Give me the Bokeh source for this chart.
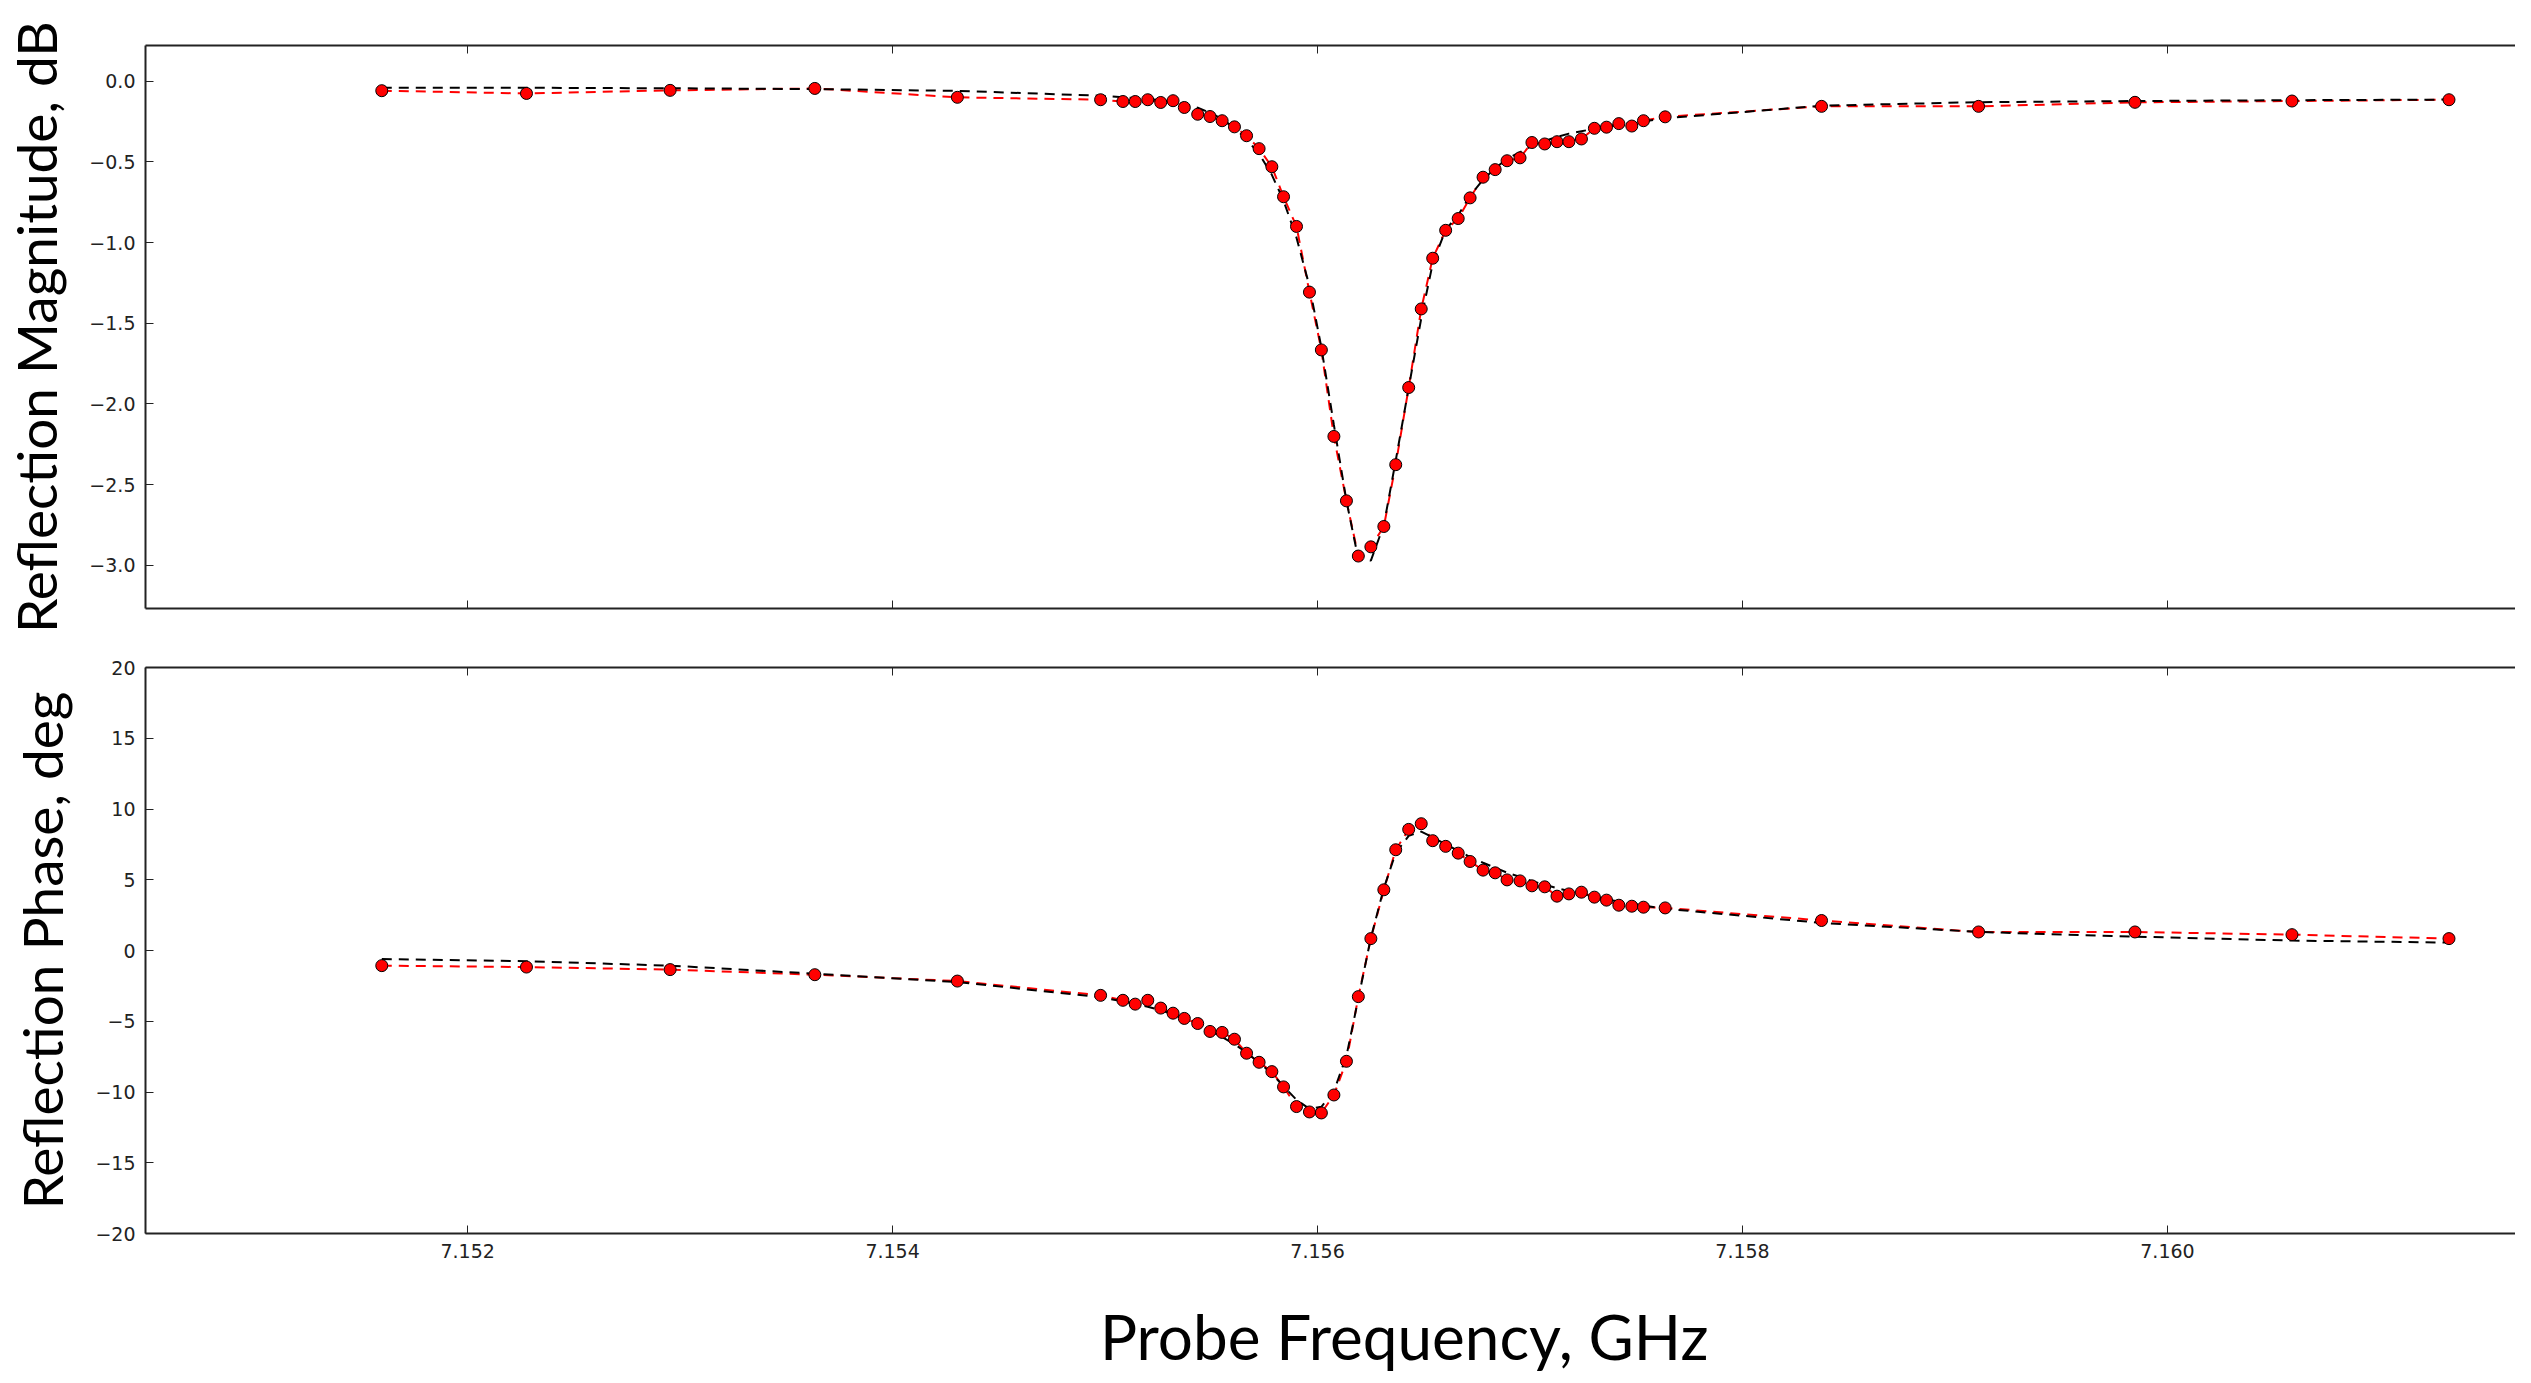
from bokeh.plotting import figure
from bokeh.layouts import column
from bokeh.models import Range1d, FixedTicker, LinearAxis, CustomJSTickFormatter
from bokeh.core.properties import value
from bokeh.embed import file_html
from bokeh.resources import INLINE

# ---------------- data ----------------
freq_ghz = [7.151596, 7.152277, 7.152953, 7.153634, 7.154305,
            7.154979, 7.155084, 7.155142, 7.155201, 7.155262, 7.155320, 7.155373, 7.155436,
            7.155494, 7.155551, 7.155609, 7.155666, 7.155725, 7.155785, 7.155840, 7.155901,
            7.155962, 7.156018, 7.156077, 7.156136, 7.156192, 7.156251, 7.156312, 7.156368,
            7.156429, 7.156488, 7.156542, 7.156603, 7.156662, 7.156718, 7.156779, 7.156836,
            7.156892, 7.156953, 7.157009, 7.157069, 7.157127, 7.157183, 7.157242, 7.157303,
            7.157360, 7.157418, 7.157479, 7.157534, 7.157636,
            7.158372, 7.159111, 7.159847, 7.160586, 7.161325]

mag_data = [-0.059, -0.076, -0.057, -0.045, -0.100,
            -0.115, -0.126, -0.126, -0.115, -0.132, -0.121, -0.163, -0.205, -0.219, -0.245,
            -0.283, -0.338, -0.418, -0.530, -0.716, -0.900, -1.307, -1.665, -2.201, -2.600,
            -2.942, -2.885, -2.759, -2.376, -1.898, -1.411, -1.097, -0.924, -0.851, -0.723,
            -0.595, -0.548, -0.493, -0.475, -0.380, -0.389, -0.375, -0.375, -0.358, -0.292,
            -0.285, -0.263, -0.278, -0.245, -0.221,
            -0.156, -0.156, -0.131, -0.123, -0.115]

mag_fit = [-0.040, -0.041, -0.044, -0.049, -0.060,
           -0.090, -0.100, -0.105, -0.110, -0.118, -0.128, -0.142, -0.165, -0.195, -0.235,
           -0.290, -0.360, -0.450, -0.580, -0.740, -0.970, -1.270, -1.650, -2.130, -2.600,
           -2.960, -2.970, -2.750, -2.350, -1.900, -1.470, -1.130, -0.920, -0.830, -0.710,
           -0.610, -0.540, -0.480, -0.440, -0.400, -0.370, -0.345, -0.325, -0.310, -0.295,
           -0.280, -0.270, -0.260, -0.250, -0.230,
           -0.152, -0.130, -0.123, -0.118, -0.114]

phase_data = [-1.07, -1.17, -1.35, -1.71, -2.16,
              -3.17, -3.52, -3.79, -3.52, -4.07, -4.43, -4.80, -5.16, -5.72, -5.79,
              -6.27, -7.26, -7.90, -8.56, -9.64, -11.03, -11.41, -11.48, -10.21, -7.83,
              -3.26, 0.84, 4.29, 7.12, 8.56, 8.96, 7.76, 7.36, 6.88, 6.29,
              5.68, 5.49, 4.99, 4.92, 4.57, 4.50, 3.84, 4.00, 4.12, 3.77,
              3.56, 3.20, 3.13, 3.06, 3.01,
              2.12, 1.31, 1.31, 1.12, 0.84]

phase_fit = [-0.60, -0.76, -1.07, -1.64, -2.23,
             -3.30, -3.60, -3.78, -3.97, -4.22, -4.52, -4.85, -5.25, -5.68, -6.12,
             -6.62, -7.22, -7.92, -8.70, -9.60, -10.55, -11.20, -11.05, -9.95, -7.45,
             -3.40, 0.90, 4.40, 6.90, 8.10, 8.40, 8.00, 7.50, 7.05, 6.60,
             6.20, 5.85, 5.50, 5.20, 4.90, 4.65, 4.40, 4.20, 4.00, 3.80,
             3.62, 3.46, 3.32, 3.18, 2.95,
             1.95, 1.31, 0.98, 0.70, 0.56]

x_ticks = [7.152, 7.154, 7.156, 7.158, 7.160]
mag_ticks = [-3.0, -2.5, -2.0, -1.5, -1.0, -0.5, 0.0]
phase_ticks = [-20, -15, -10, -5, 0, 5, 10, 15, 20]

mag_label = "Reflection Magnitude, dB"
phase_label = "Reflection Phase, deg"
freq_label = "Probe Frequency, GHz"

# ---------------- styling helpers ----------------
AX_COLOR = "#222222"
MINUS = "\u2212"
W = 2515
LEFT = 139

x_range = Range1d(7.150484, 7.161638)


def style_axis(ax, show_labels):
    ax.axis_line_width = 2
    ax.axis_line_color = AX_COLOR
    ax.major_tick_in = 8
    ax.major_tick_out = 0
    ax.major_tick_line_width = 1
    ax.major_tick_line_color = AX_COLOR
    ax.minor_tick_line_color = None
    ax.major_label_text_font = "DejaVu Sans"
    ax.major_label_text_font_size = "19px"
    if show_labels:
        ax.major_label_text_color = AX_COLOR
        ax.major_label_standoff = 10
    else:
        ax.major_label_text_color = None
        ax.major_label_text_alpha = 0
        ax.major_label_standoff = 0


def make_fig(height, yr, yticks, yfmt, ylabel, top, bottom, show_x_labels):
    p = figure(width=W, height=height, x_range=x_range, y_range=yr,
               output_backend="svg", toolbar_location=None,
               min_border_left=LEFT, min_border_right=0,
               min_border_top=top, min_border_bottom=bottom)
    p.outline_line_color = None
    p.grid.visible = False
    p.background_fill_color = "white"
    p.border_fill_color = "white"

    p.xaxis.ticker = FixedTicker(ticks=x_ticks)
    p.xaxis.formatter = CustomJSTickFormatter(code="return tick.toFixed(3);")
    style_axis(p.xaxis[0], show_x_labels)

    p.yaxis.ticker = FixedTicker(ticks=yticks)
    p.yaxis.formatter = CustomJSTickFormatter(code=yfmt)
    style_axis(p.yaxis[0], True)
    p.yaxis.axis_label = ylabel
    p.yaxis.axis_label_text_font = "Lato"
    p.yaxis.axis_label_text_font_size = "55px"
    p.yaxis.axis_label_text_font_style = "normal"
    p.yaxis.axis_label_text_color = "black"
    p.yaxis.axis_label_standoff = 17

    top_ax = LinearAxis(ticker=FixedTicker(ticks=x_ticks),
                        formatter=CustomJSTickFormatter(code="return tick.toFixed(3);"))
    style_axis(top_ax, False)
    p.add_layout(top_ax, "above")
    return p


fmt_mag = "return tick.toFixed(1).replace('-', '%s');" % MINUS
fmt_phase = "return tick.toFixed(0).replace('-', '%s');" % MINUS

p1 = make_fig(638, Range1d(-3.267, 0.221), mag_ticks, fmt_mag, mag_label, 45, 30, False)
p2 = make_fig(645, Range1d(-20, 20), phase_ticks, fmt_phase, phase_label, 29, 50, True)

for p, yd, yf in ((p1, mag_data, mag_fit), (p2, phase_data, phase_fit)):
    p.line(freq_ghz, yd, line_color="red", line_width=2, line_dash="10 7")
    p.line(freq_ghz, yf, line_color="black", line_width=2, line_dash="10 7")
    p.scatter(freq_ghz, yd, size=12, fill_color="red", line_color="black", line_width=1)

# strip under the lower panel that carries the x-axis title
p3 = figure(width=W, height=92, x_range=x_range, y_range=Range1d(0, 92),
            output_backend="svg", toolbar_location=None,
            min_border_left=LEFT, min_border_right=0, min_border_top=0, min_border_bottom=0)
p3.axis.visible = False
p3.grid.visible = False
p3.outline_line_color = None
p3.text(x=[7.156408], y=[40], text=[freq_label], text_font=value("Lato"),
        text_font_size="62px", text_align="center", text_baseline="alphabetic",
        text_color="black")

layout = column(p1, p2, p3)
with open("out.html", "w", encoding="utf-8") as f:
    f.write(file_html(layout, INLINE))
